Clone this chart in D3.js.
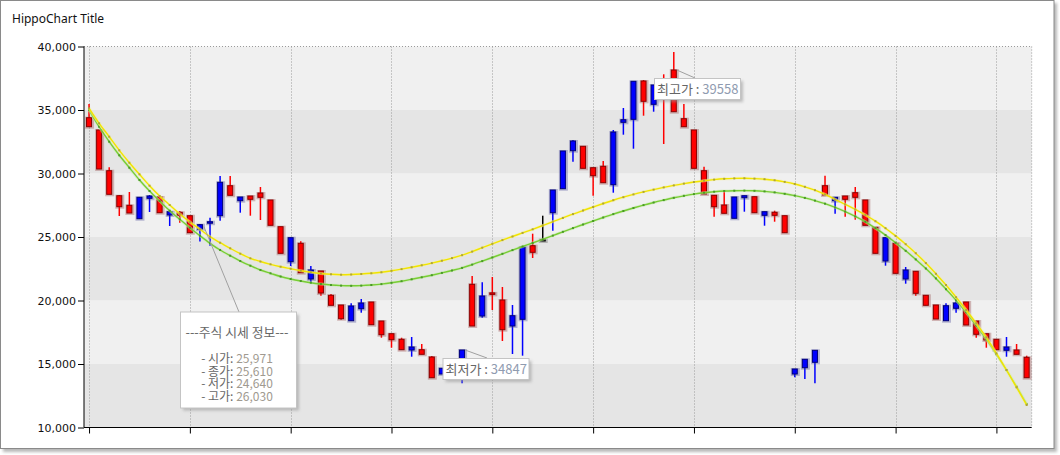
<!DOCTYPE html>
<html><head><meta charset="utf-8">
<script src="https://cdn.jsdelivr.net/npm/d3@7"></script>
<style>body{margin:0;background:#fff;} svg{display:block}</style>
</head><body><svg id="c" width="1060" height="455"></svg>
<script>
// ---- data ----
const openVals = [33685,30354,28362,27385,26889,28126,28228,26913,26992,26708,
25338,25971,26204,29307,28283,28149,27968,28125,25921,23716,
24945,22188,22401,20590,19622,18566,19567,19803,18094,17307,
16913,16126,16338,15764,13921,14661,15393,16102,17992,20354,
20551,17701,18803,24212,23795,24803,28700,31771,32559,30409,
29826,29275,33267,34236,37259,35685,36968,36102,34866,33685,
30409,28385,27385,26866,28149,28252,26913,26992,26708,25338,
14606,15370,16078,28307,28125,27968,28125,25921,23716,24945,
22141,22401,20567,19622,18543,19590,19803,18070,17338,16889,
16126,16338,15764,13921];
const closeVals = [34393,33425,30220,28252,27496,26441,28047,28149,26732,26945,
26677,25610,26102,26677,29039,27858,28228,28464,27913,25811,
23055,24503,21693,22322,20409,19645,18409,19354,19882,18385,
17385,16945,16102,16126,15551,14212,14370,15315,21275,18779,
20600,20039,17992,18519,24315,24803,26913,28803,31795,32141,
30456,30567,29118,34031,34267,37283,35448,37047,38149,34315,
33425,30220,28283,27519,26472,28094,28173,26708,26945,26677,
14212,14708,15134,29039,27858,28228,28488,27913,25763,23110,
24503,21693,22299,20409,19645,18409,19385,19882,18385,17385,
16945,16078,16102,15527];
const highVals = [35472,33425,30488,28307,28543,28126,28307,28283,27071,27047,
26677,26030,26519,29803,29803,28149,28228,28937,27913,25811,
24945,24661,22716,22322,20511,19645,19779,20118,19882,18385,
17385,17070,17126,16574,15630,14661,15393,16102,21929,21433,
21850,21063,19645,24212,25260,26677,28700,31771,32637,32141,
30456,30984,33425,35157,37259,37362,36968,37811,39558,35472,
33425,30535,28283,28567,28149,28252,28173,26992,27071,26677,
14606,15370,16078,29826,28125,28228,28937,27913,25763,24945,
24503,22637,22299,20409,19645,19779,20118,19882,18385,17385,
16945,17126,16574,15653];
const lowVals = [33685,30354,28362,26653,26889,26441,26968,26913,25866,26126,
25338,24640,24315,26283,28283,26913,26677,26338,25921,23716,
22716,22188,21401,20378,19622,18488,18409,19039,18094,17070,
16283,16126,15574,15764,13921,14212,14370,13480,17992,18645,
19252,16811,15787,15654,23346,24740,25496,28803,30929,30409,
28252,29275,28488,33055,31952,34551,34866,32322,34866,33685,
30409,28385,26598,26866,26472,26992,26913,25889,26204,25338,
13952,13819,13480,28307,26834,26598,26362,25921,23716,22740,
22141,21323,20378,19622,18543,18409,19039,18070,17070,16283,
16126,15574,15764,13921];
const trendYellow = [35134,33952,32897,31826,30850,29937,29039,28228,27519,26811,
26181,25606,25023,24551,24110,23685,23322,23070,22850,22661,
22503,22346,22220,22126,22063,22031,22047,22086,22141,22220,
22338,22472,22614,22771,22945,23134,23338,23567,23850,24157,
24464,24756,25039,25323,25606,25905,26212,26503,26803,27086,
27362,27637,27897,28134,28354,28551,28732,28905,29063,29204,
29330,29433,29519,29582,29614,29622,29598,29551,29464,29338,
29173,28952,28685,28354,27968,27574,27173,26732,26244,25693,
25086,24433,23724,22945,22102,21220,20259,19252,18205,17102,
15842,14527,13165,11771];
const trendGreen = [35000,33685,32503,31433,30456,29488,28622,27834,27071,26393,
25732,25102,24503,23976,23527,23110,22740,22401,22141,21889,
21693,21535,21401,21299,21220,21173,21157,21173,21220,21291,
21393,21519,21669,21826,21992,22173,22362,22567,22826,23102,
23385,23677,23968,24251,24527,24818,25110,25409,25700,25984,
26259,26535,26803,27047,27283,27511,27716,27905,28086,28243,
28378,28488,28567,28622,28645,28653,28637,28590,28511,28401,
28259,28078,27866,27622,27330,26999,26622,26197,25693,25149,
24551,23913,23236,22519,21740,20889,20023,19071,18023,16945,
15764,14527,13212,11850];
const yTickVals = [10000,15000,20000,25000,30000,35000,40000];
const xTickIdx = [0,10,20,30,40,50,60,70,80,90];
const titleText = "HippoChart Title";
const tipIndex = 11;
const tipHeader = "---주식 시세 정보---";
const tipItems = [["- 시가: ", "25,971"], ["- 종가: ", "25,610"], ["- 저가: ", "24,640"], ["- 고가: ", "26,030"]];
const maxLabel = ["최고가 : ", "39558"];
const minLabel = ["최저가 : ", "34847"];
const maxIdx = 58, minIdx = 37;

// ---- layout ----
const svg = d3.select("#c");
const L = 84, R = 1031.7, T = 46.5, B = 427.5;
const n = openVals.length;
const x = d3.scaleLinear().domain([-0.5, n - 0.5]).range([L, R]);
const y = d3.scaleLinear().domain([10000, 40000]).range([B, T]);
const defs = svg.append("defs");
const blur = defs.append("filter").attr("id","blur").attr("x","-10%").attr("y","-10%").attr("width","120%").attr("height","130%");
blur.append("feGaussianBlur").attr("stdDeviation", 1.5);

// frame
svg.append("rect").attr("x",3).attr("y",3).attr("width",1054).attr("height",449).attr("fill","#b8b8b8").attr("filter","url(#blur)");
svg.append("rect").attr("x",0.5).attr("y",0.5).attr("width",1053.5).attr("height",448).attr("fill","#fff").attr("stroke","#8a8a8a");

svg.append("text").attr("x",12).attr("y",23).attr("font-family","'Noto Sans', sans-serif").attr("font-size",12).attr("fill","#111").text(titleText);

// bands
const bandPairs = d3.pairs(yTickVals);
svg.append("g").selectAll("rect").data(bandPairs).join("rect")
  .attr("x", L).attr("width", R - L)
  .attr("y", d => y(d[1])).attr("height", d => y(d[0]) - y(d[1]))
  .attr("fill", (d, i) => i % 2 === 0 ? "#e5e5e5" : "#f0f0f0");

// grid
const grid = svg.append("g").attr("stroke","#9a9a9a").attr("stroke-dasharray","1,2").attr("stroke-width",1);
grid.selectAll("line.v").data(xTickIdx).join("line").attr("class","v")
  .attr("x1", d => Math.round(x(d)) + 0.5).attr("x2", d => Math.round(x(d)) + 0.5).attr("y1", T).attr("y2", B);
grid.append("line").attr("x1", L).attr("x2", R).attr("y1", T).attr("y2", T);
grid.append("line").attr("x1", R).attr("x2", R).attr("y1", T).attr("y2", B);

// axes
const yAxis = d3.axisLeft(y).tickValues(yTickVals).tickSize(6).tickPadding(2).tickFormat(d3.format(","));
const gy = svg.append("g").attr("transform", `translate(${L},0)`).call(yAxis);
gy.select(".domain").attr("stroke","#000").attr("d", `M0,${T}V${B}`);
gy.selectAll(".tick line").attr("stroke","#000");
gy.selectAll(".tick text").attr("font-family","'DejaVu Sans', sans-serif").attr("font-size",11).attr("fill","#111");
const xAxis = d3.axisBottom(x).tickValues(xTickIdx).tickSize(6).tickFormat("");
const gx = svg.append("g").attr("transform", `translate(0,${B})`).call(xAxis);
gx.select(".domain").attr("stroke","#000").attr("d", `M${L},0H${R}`);
gx.selectAll(".tick line").attr("stroke","#000");

// candles
const data = openVals.map((o, i) => ({i, o, c: closeVals[i], h: highVals[i], l: lowVals[i]}));
const col = d => d.c > d.o ? "#ff0000" : d.c < d.o ? "#0000ff" : "#000000";
const dark = d => d.c > d.o ? "#8a0000" : d.c < d.o ? "#00007a" : "#000000";
const halo = d => d.c > d.o ? "rgba(150,70,70,0.35)" : d.c < d.o ? "rgba(70,70,150,0.35)" : "rgba(60,60,60,0.3)";
const cg = svg.append("g");
cg.selectAll("line").data(data).join("line")
  .attr("x1", d => x(d.i)).attr("x2", d => x(d.i))
  .attr("y1", d => y(d.h)).attr("y2", d => y(d.l))
  .attr("stroke", col).attr("stroke-width", 1.5);
const bw = 6;
const bodyTop = d => y(Math.max(d.o, d.c));
const bodyH = d => Math.max(1.5, y(Math.min(d.o, d.c)) - y(Math.max(d.o, d.c)));
cg.selectAll("rect.h").data(data).join("rect").attr("class","h")
  .attr("x", d => x(d.i) - bw/2 - 1).attr("y", d => bodyTop(d) - 1)
  .attr("width", bw + 3).attr("height", d => bodyH(d) + 3).attr("fill", halo);
cg.selectAll("rect.b").data(data).join("rect").attr("class","b")
  .attr("x", d => x(d.i) - bw/2 + 0.5).attr("y", d => bodyTop(d))
  .attr("width", bw - 1).attr("height", d => bodyH(d))
  .attr("fill", col).attr("stroke", dark).attr("stroke-width", 1);

// trend lines
function trend(vals, color, glow, dot) {
  const pts = vals.map((v, i) => [x(i), y(v)]);
  const line = d3.line().curve(d3.curveMonotoneX);
  svg.append("path").attr("d", line(pts)).attr("fill","none").attr("stroke",glow).attr("stroke-width",3).attr("stroke-opacity",0.5);
  svg.append("path").attr("d", line(pts)).attr("fill","none").attr("stroke",color).attr("stroke-width",1.4);
  svg.append("g").selectAll("rect").data(pts).join("rect")
    .attr("x", p => p[0] - 1).attr("y", p => p[1] - 1).attr("width", 2).attr("height", 2).attr("fill", dot);
}
trend(trendGreen, "#78cc34", "#c8eeb0", "#4a9a28");
trend(trendYellow, "#f0e400", "#f8f4a0", "#b0a438");

// annotation helper
const kr = "'Noto Sans CJK KR', 'Noto Sans', sans-serif";
function box(x0, y0, w, h) {
  svg.append("rect").attr("x", x0 + 3).attr("y", y0 + 3).attr("width", w).attr("height", h).attr("fill","#999").attr("opacity",0.6).attr("filter","url(#blur)");
  svg.append("rect").attr("x", x0 + 0.5).attr("y", y0 + 0.5).attr("width", w).attr("height", h).attr("fill","#fff").attr("stroke","#c4c4c4");
}

// tooltip for candle tipIndex
const tx = x(tipIndex), ty = y(Math.max(openVals[tipIndex], closeVals[tipIndex]));
svg.append("line").attr("x1", tx + 4).attr("y1", ty + 2).attr("x2", 239).attr("y2", 312).attr("stroke","#a0a0a0").attr("stroke-width",1);
box(180, 311.5, 116, 96);
svg.append("text").attr("x", 237).attr("y", 337).attr("text-anchor","middle").attr("font-family", kr)
  .attr("font-size", 12.8).attr("fill","#666").text(tipHeader);
const tt = svg.append("text").attr("text-anchor","middle").attr("font-family", kr).attr("font-size", 12).attr("fill","#666");
tipItems.forEach((it, k) => {
  const line = tt.append("tspan").attr("x", 237).attr("y", 363.3 + 12.4 * k);
  line.append("tspan").text(it[0]);
  line.append("tspan").attr("fill","#a09a90").text(it[1]);
});

// max / min labels
function tag(idx, lbl, bx, by, lx, ly) {
  const cx = x(idx), cy = y(Math.max(openVals[idx], closeVals[idx]));
  svg.append("line").attr("x1", cx + 3).attr("y1", cy).attr("x2", lx).attr("y2", ly).attr("stroke","#a0a0a0");
  box(bx, by, 86, 21);
  const t = svg.append("text").attr("x", bx + 3).attr("y", by + 16).attr("font-family", kr).attr("font-size", 13).attr("fill","#666");
  t.append("tspan").text(lbl[0]);
  t.append("tspan").attr("fill","#8f9bb0").text(lbl[1]);
}
tag(maxIdx, maxLabel, 654, 78, 695, 78);
tag(minIdx, minLabel, 442.5, 358, 487, 358);
</script></body></html>
